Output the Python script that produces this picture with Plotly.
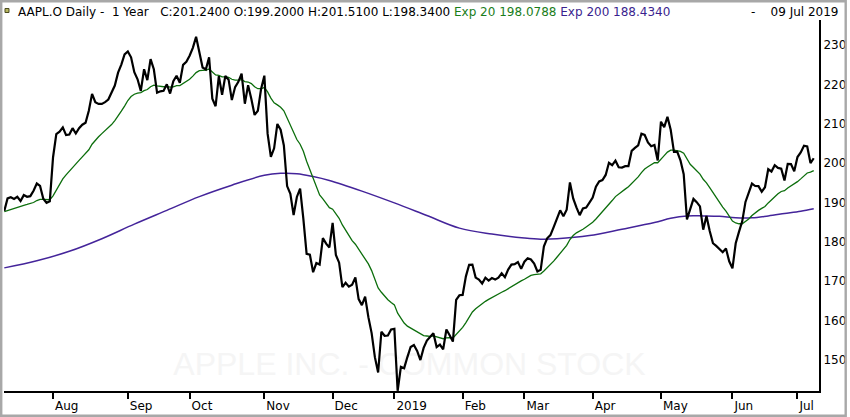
import pandas as pd
import plotly.graph_objects as go

# trading calendar Jul 11 2018 - Jul 9 2019 (NYSE holidays)
holidays = ["2018-09-03", "2018-11-22", "2018-12-05", "2018-12-25", "2019-01-01",
            "2019-01-21", "2019-02-18", "2019-04-19", "2019-05-27", "2019-07-04"]
dates = pd.bdate_range("2018-07-11", "2019-07-09", freq="C",
                       holidays=holidays).strftime("%Y-%m-%d").tolist()

# daily close
close = [
    187.88, 191.03, 191.33, 190.91, 191.45, 190.40, 191.88, 191.44, 191.61, 193.00, 194.82, 194.21, 190.98, 189.91, 190.29,
    201.50, 207.39, 207.99, 209.07, 207.11, 207.25, 208.88, 207.53, 208.87, 209.75, 210.24, 213.32, 217.58, 215.46, 215.04,
    215.05, 215.49, 216.16, 217.94, 219.70, 222.98, 225.03, 227.63,
    228.36, 226.87, 223.10, 221.30, 218.33, 223.85, 221.07, 226.41, 223.84, 217.88, 218.24, 218.37, 220.03, 217.66, 220.79,
    222.19, 220.42, 224.95, 225.74,
    227.26, 229.28, 232.07, 227.99, 224.29, 223.77, 226.87, 216.36, 214.45, 222.11, 217.36, 222.15, 221.19, 216.02, 219.31,
    220.65, 222.73, 215.09, 219.80, 216.30, 212.24, 213.30, 218.86,
    222.22, 207.48, 201.59, 203.77, 209.95, 208.49, 204.47, 194.17, 192.23, 186.80, 191.41, 193.53, 185.86, 176.98, 176.78,
    172.29, 174.62, 174.24, 180.94, 179.55, 178.58,
    184.82, 176.69, 174.72, 168.49, 169.60, 168.63, 169.10, 170.95, 165.48, 163.94, 166.07, 160.89, 156.83, 150.73, 146.83,
    157.17, 156.15, 156.23, 157.74,
    157.92, 142.19, 148.26, 147.93, 150.75, 153.31, 153.80, 152.29, 150.00, 153.07, 154.94, 155.86, 156.82, 153.30, 153.92,
    152.70, 157.76, 156.30, 154.68, 165.25, 166.44,
    166.52, 171.25, 174.18, 174.24, 170.94, 170.41, 169.43, 170.89, 170.18, 170.80, 170.42, 170.93, 172.03, 171.06, 172.97,
    174.23, 174.33, 174.87, 173.15,
    174.97, 175.85, 175.53, 174.52, 172.50, 172.91, 178.90, 180.91, 181.71, 183.73, 186.12, 188.02, 186.53, 188.16, 195.09,
    191.05, 188.74, 186.79, 188.47, 188.72, 189.95,
    191.24, 194.02, 195.35, 195.69, 197.00, 200.10, 199.50, 200.62, 198.95, 198.87, 199.23, 199.25, 203.13, 203.86, 204.53,
    207.48, 207.16, 205.28, 204.30, 204.61, 200.67,
    210.52, 209.15, 211.75, 208.48, 202.86, 202.90, 200.72, 197.18, 185.72, 188.66, 190.92, 190.08, 189.00, 183.09, 186.60,
    182.78, 179.66, 178.97, 178.23, 177.38, 178.30, 175.07,
    173.30, 179.64, 182.54, 185.22, 190.15, 192.58, 194.81, 194.19, 194.15, 192.74, 193.89, 198.45, 197.87, 199.46, 198.78,
    198.58, 195.57, 199.80, 199.74, 197.92,
    201.55, 202.73, 204.41, 204.23, 200.02, 201.24,
]

# Exp 20 (green), read per day
ema20 = [
    187.7, 188.0, 188.3, 188.6, 188.9, 189.0, 189.3, 189.5, 189.7, 190.0, 190.5, 190.8, 190.8, 190.7, 190.7,
    191.7, 193.2, 194.6, 196.0, 197.0, 198.0, 199.0, 199.8, 200.7, 201.6, 202.4, 203.4, 204.8, 205.8, 206.7,
    207.5, 208.2, 209.0, 209.8, 210.8, 211.9, 213.2, 214.5,
    215.9, 216.9, 217.5, 217.8, 217.9, 218.4, 218.7, 219.4, 219.8, 219.6, 219.5, 219.4, 219.5, 219.3, 219.4,
    219.7, 219.7, 220.2, 220.7,
    221.3, 222.1, 223.0, 223.5, 223.6, 223.6, 223.9, 223.2, 222.4, 222.3, 221.9, 221.9, 221.8, 221.3, 221.1,
    221.1, 221.2, 220.7, 220.6, 220.2, 219.4, 218.9, 218.9,
    219.2, 218.1, 216.5, 215.3, 214.8, 214.2, 213.3, 211.5, 209.7, 207.5, 206.0, 204.8, 203.0, 200.5, 198.3,
    195.8, 193.8, 191.9, 190.9, 189.8, 188.7,
    188.3, 187.2, 186.0, 184.3, 182.9, 181.5, 180.3, 179.4, 178.1, 176.8, 175.8, 174.4, 172.7, 170.6, 168.3,
    167.2, 166.2, 165.3, 164.6,
    164.0, 161.9, 160.6, 159.4, 158.6, 158.1, 157.7, 157.2, 156.5, 156.2, 156.1, 156.0, 156.1, 155.8, 155.7,
    155.4, 155.6, 155.7, 155.6, 156.5, 157.4,
    158.3, 159.5, 160.9, 162.2, 163.0, 163.7, 164.2, 164.9, 165.4, 165.9, 166.3, 166.7, 167.2, 167.6, 168.1,
    168.7, 169.2, 169.8, 170.1,
    170.5, 171.0, 171.5, 171.7, 171.8, 171.9, 172.6, 173.4, 174.2, 175.1, 176.1, 177.2, 178.1, 179.1, 180.6,
    181.6, 182.3, 182.7, 183.2, 183.8, 184.3,
    185.0, 185.8, 186.7, 187.6, 188.5, 189.6, 190.5, 191.5, 192.2, 192.8, 193.4, 194.0, 194.8, 195.7, 196.5,
    197.6, 198.5, 199.1, 199.6, 200.1, 200.1,
    201.1, 201.9, 202.8, 203.3, 203.3, 203.2, 203.0, 202.5, 200.9, 199.7, 198.9, 198.0, 197.2, 195.9, 195.0,
    193.8, 192.5, 191.2, 190.0, 188.8, 187.8, 186.6,
    185.3, 184.8, 184.6, 184.6, 185.1, 185.8, 186.7, 187.4, 188.0, 188.5, 189.0, 189.9, 190.7, 191.5, 192.2,
    192.8, 193.0, 193.7, 194.2, 194.6,
    195.3, 196.0, 196.8, 197.5, 197.7, 198.1,
]

# Exp 200 (purple), read at sample dates
ema200_dates = ["2018-07-11", "2018-07-25", "2018-08-08", "2018-08-22", "2018-09-06", "2018-09-20",
                "2018-10-04", "2018-10-18", "2018-11-01", "2018-11-08", "2018-11-15", "2018-11-23",
                "2018-11-30", "2018-12-17", "2019-01-02", "2019-01-16", "2019-01-31", "2019-02-14",
                "2019-03-01", "2019-03-08", "2019-03-15", "2019-03-29", "2019-04-12", "2019-04-29",
                "2019-05-06", "2019-05-13", "2019-05-20", "2019-05-28", "2019-06-04", "2019-06-11",
                "2019-06-18", "2019-06-25", "2019-07-02", "2019-07-09"]
ema200 = [173.4, 175.2, 177.6, 180.8, 184.5, 188.0,
          191.5, 194.4, 196.9, 197.4, 197.3, 196.6,
          195.6, 192.9, 189.9, 186.7, 183.5, 182.0,
          181.0, 180.7, 180.8, 181.6, 183.2, 184.9,
          186.0, 186.6, 186.6, 186.5, 186.1, 186.1,
          186.6, 187.2, 187.8, 188.4]

tick_dates = ["2018-08-01", "2018-09-04", "2018-10-01", "2018-11-01", "2018-12-03", "2019-01-02",
              "2019-02-01", "2019-03-01", "2019-04-01", "2019-05-01", "2019-06-03", "2019-07-01"]
tick_labels = ["Aug", "Sep", "Oct", "Nov", "Dec", "2019", "Feb", "Mar", "Apr", "May", "Jun", "Jul"]
price_ticks = [150, 160, 170, 180, 190, 200, 210, 220, 230]

FONT = "DejaVu Sans"
W, H = 850, 417
ML, MR, MT, MB = 4, 28, 20, 26
PW, PH = W - ML - MR, H - MT - MB


def px(x):
    return (x - ML) / PW


def py(y):
    return (H - MB - y) / PH


fig = go.Figure()
fig.add_trace(go.Scatter(x=ema200_dates, y=ema200, mode="lines",
                         line=dict(color="#44249a", width=1.5, shape="spline")))
fig.add_trace(go.Scatter(x=dates, y=ema20, mode="lines",
                         line=dict(color="#0c6e0c", width=1.3)))
fig.add_trace(go.Scatter(x=dates, y=close, mode="lines",
                         line=dict(color="black", width=2.2)))

nb = "\u00a0"
header = ("AAPL.O Daily -" + nb * 2 + "1 Year" + nb * 3 + "C:201.2400 O:199.2000 H:201.5100 L:198.3400 "
          "<span style='color:#1a7d1a'>Exp 20 198.0788</span> "
          "<span style='color:#3a1f8f'>Exp 200 188.4340</span>")

fig.update_layout(
    width=W, height=H,
    margin=dict(l=ML, r=MR, t=MT, b=MB),
    paper_bgcolor="white",
    plot_bgcolor="white",
    showlegend=False,
    font=dict(family=FONT, size=12, color="black"),
    xaxis=dict(type="category", categoryorder="array", categoryarray=dates,
               range=[-0.09, 250.62],
               tickmode="array", tickvals=tick_dates, ticktext=tick_labels,
               ticks="outside", ticklen=6, tickwidth=2, tickcolor="black",
               ticklabelposition="outside right", ticklabelstandoff=3,
               showline=True, linecolor="black", linewidth=2,
               showgrid=False, zeroline=False,
               tickfont=dict(family=FONT, size=12, color="black")),
    yaxis=dict(side="right", range=[142.13, 236.35],
               tickmode="array", tickvals=price_ticks,
               ticks="", ticklen=0, ticklabelstandoff=0,
               showline=True, linecolor="black", linewidth=2,
               showgrid=False, zeroline=False,
               tickfont=dict(family=FONT, size=12, color="black")),
    annotations=[
        dict(text=header, xref="paper", yref="paper", x=px(16), y=py(12),
             xanchor="left", yanchor="middle", showarrow=False,
             font=dict(family=FONT, size=12, color="black")),
        dict(text="-" + nb * 4 + "09 Jul 2019", xref="paper", yref="paper", x=px(844), y=py(12),
             xanchor="right", yanchor="middle", showarrow=False,
             font=dict(family=FONT, size=12, color="black")),
    ],
    shapes=[
        # watermark behind the lines
        dict(type="rect", xref="paper", yref="paper", x0=px(150), x1=px(672), y0=py(380), y1=py(342),
             line=dict(width=0), layer="below",
             label=dict(text="APPLE INC. - COMMON STOCK", textposition="middle center",
                        font=dict(family="Liberation Sans", size=32, color="#f5f5f5"))),
        # small icon in the header
        dict(type="rect", xref="paper", yref="paper", x0=px(5), x1=px(9), y0=py(12.5), y1=py(8.5),
             fillcolor="#b8b860", line=dict(color="#4a4a20", width=1)),
        # outer frame
        dict(type="rect", xref="paper", yref="paper", x0=px(1.2), x1=px(848.8), y0=py(415.8), y1=py(1.2),
             line=dict(color="#a8a8a8", width=2.4)),
    ],
)

# drop the default page margin so the figure sits at the window's corner
fig.write_html("out.html", config={"displayModeBar": False},
               post_script="document.body.style.margin='0px';")
